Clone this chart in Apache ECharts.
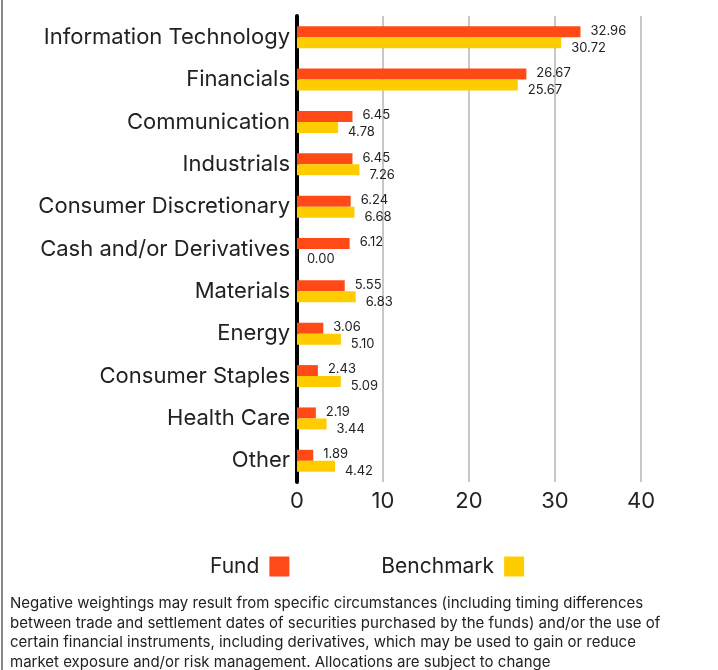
<!DOCTYPE html>
<html>
<head>
<meta charset="utf-8">
<script src="https://cdn.jsdelivr.net/npm/echarts@6/dist/echarts.min.js"></script>
<style>
  html, body { margin: 0; padding: 0; background: #fff; }
  #chart { width: 718px; height: 670px; }
</style>
</head>
<body>
<div id="chart"></div>
<script>
var sectors = ['Information Technology', 'Financials', 'Communication', 'Industrials',
    'Consumer Discretionary', 'Cash and/or Derivatives', 'Materials', 'Energy',
    'Consumer Staples', 'Health Care', 'Other'];
var fundValues = [32.96, 26.67, 6.45, 6.45, 6.24, 6.12, 5.55, 3.06, 2.43, 2.19, 1.89];
var benchmarkValues = [30.72, 25.67, 4.78, 7.26, 6.68, 0.00, 6.83, 5.10, 5.09, 3.44, 4.42];
var xTicks = [0, 10, 20, 30, 40];

var footnote = 'Negative weightings may result from specific circumstances (including timing differences\n' +
    'between trade and settlement dates of securities purchased by the funds) and/or the use of\n' +
    'certain financial instruments, including derivatives, which may be used to gain or reduce\n' +
    'market exposure and/or risk management. Allocations are subject to change';

var font = 'Inter';
var chart = echarts.init(document.getElementById('chart'));

chart.setOption({
    animation: false,
    grid: { left: 297, top: 16, width: 344, height: 466 },
    legend: {
        data: ['Fund', 'Benchmark'],
        top: 551,
        left: 205,
        align: 'right',
        itemWidth: 20,
        itemHeight: 20,
        itemGap: 92,
        icon: 'rect',
        textStyle: { fontFamily: font, fontSize: 21, color: '#222', padding: [0, 5, 0, 0] }
    },
    xAxis: {
        type: 'value',
        min: xTicks[0],
        max: xTicks[xTicks.length - 1],
        interval: 10,
        axisLine: { show: false },
        axisTick: { show: false },
        axisLabel: { fontFamily: font, fontSize: 22, color: '#222', margin: 8 },
        splitLine: { lineStyle: { color: '#c8c8c8', width: 2 } }
    },
    yAxis: {
        type: 'category',
        data: sectors,
        inverse: true,
        axisLine: { lineStyle: { color: '#000', width: 4 } },
        axisTick: { show: false },
        axisLabel: { fontFamily: font, fontSize: 22, color: '#222', margin: 7, padding: [4, 0, 0, 0] }
    },
    series: [
        {
            name: 'Fund',
            type: 'bar',
            data: fundValues,
            barWidth: 11,
            barGap: '0%',
            itemStyle: { color: '#ff4a17' },
            label: {
                show: true, position: 'right', distance: 10, offset: [0, -1],
                fontFamily: font, fontSize: 13, color: '#222',
                formatter: function (p) { return p.value.toFixed(2); }
            }
        },
        {
            name: 'Benchmark',
            type: 'bar',
            data: benchmarkValues,
            barWidth: 11,
            itemStyle: { color: '#ffcc00' },
            label: {
                show: true, position: 'right', distance: 10, offset: [0, 5],
                fontFamily: font, fontSize: 13, color: '#222',
                formatter: function (p) { return p.value.toFixed(2); }
            }
        }
    ],
    graphic: [
        {
            type: 'line',
            shape: { x1: 2, y1: 0, x2: 2, y2: 670 },
            style: { stroke: '#8a8a8a', lineWidth: 2 }
        },
        {
            type: 'text',
            left: 10,
            top: 594,
            style: {
                text: footnote,
                fontFamily: font,
                fontSize: 15,
                lineHeight: 19.5,
                fill: '#222'
            }
        }
    ]
});
</script>
</body>
</html>
